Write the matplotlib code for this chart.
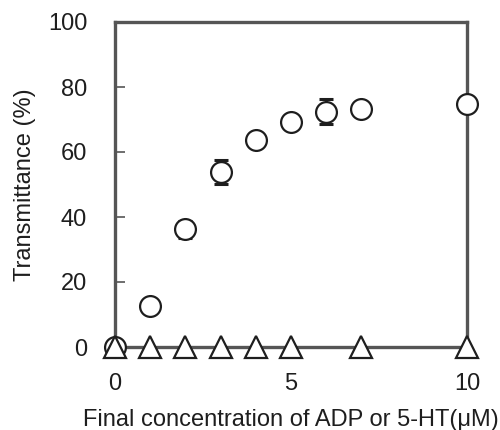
import matplotlib.pyplot as plt
import numpy as np

plt.rcParams['font.family'] = ['Liberation Sans', 'DejaVu Sans']

# ADP response (circles) and 5-HT response (triangles)
adp_conc = [0, 1, 2, 3, 4, 5, 6, 7, 10]
adp_trans = [0, 12.7, 36.2, 53.9, 63.7, 69.3, 72.4, 73.1, 74.8]
adp_err = [0, 0, 2.7, 3.7, 0, 0, 3.9, 0, 0]

ht_conc = [0, 1, 2, 3, 4, 5, 7, 10]
ht_trans = [0, 0, 0, 0, 0, 0, 0, 0]

xticks = [0, 5, 10]
yticks = [0, 20, 40, 60, 80, 100]

FRAME = '#555555'
INK = '#1e1e1e'
FS = 17

fig = plt.figure(figsize=(5, 4.3), dpi=100)
ax = fig.add_axes([115 / 500, 83 / 430, 352 / 500, 325 / 430])

ax.errorbar(adp_conc, adp_trans, yerr=adp_err, fmt='none', ecolor=INK,
            elinewidth=1.2, capsize=5, capthick=2.2, zorder=3, clip_on=False)
ax.plot(adp_conc, adp_trans, linestyle='none', marker='o', markersize=15,
        markerfacecolor='white', markeredgecolor=INK, markeredgewidth=1.6,
        zorder=4, clip_on=False)
ax.plot(ht_conc, ht_trans, linestyle='none', marker='^', markersize=16,
        markerfacecolor='white', markeredgecolor=INK, markeredgewidth=1.6,
        zorder=5, clip_on=False)

ax.set_xlim(0, 10)
ax.set_ylim(0, 100)
ax.set_xticks(xticks)
ax.set_yticks(yticks)

for s in ax.spines.values():
    s.set_linewidth(2.4)
    s.set_color(FRAME)

ax.tick_params(axis='y', direction='in', length=7, width=1.2, color=FRAME,
               pad=20, labelsize=FS, labelcolor=INK)
ax.tick_params(axis='x', direction='in', length=0, pad=19, labelsize=FS,
               labelcolor=INK)

ax.set_xlabel('Final concentration of ADP or 5-HT(\u03bcM)', fontsize=FS,
              color=INK, labelpad=10)
ax.set_ylabel('Transmittance (%)', fontsize=FS, color=INK)
ax.yaxis.set_label_coords(-0.225, 0.5)

fig.savefig('out.png', dpi=100)
